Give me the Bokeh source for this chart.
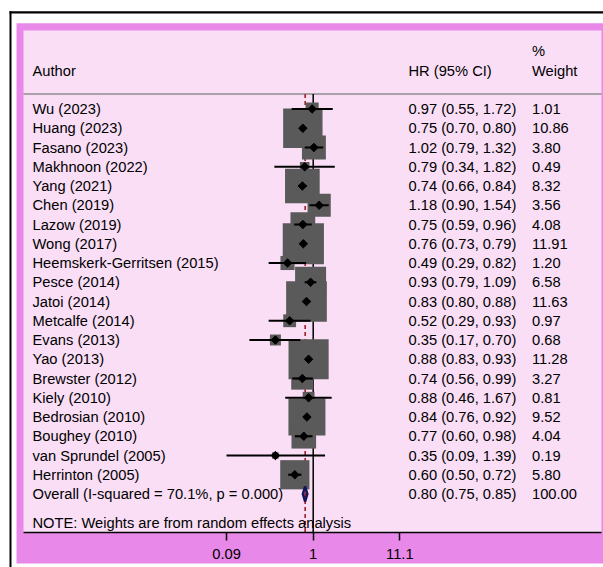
import math

from bokeh.core.properties import value
from bokeh.embed import file_html
from bokeh.models import (ColumnDataSource, CustomJSTickFormatter, FixedTicker,
                          LogAxis, LogScale, Range1d)
from bokeh.plotting import figure
from bokeh.resources import INLINE

# ---- study data -------------------------------------------------------------
authors = ["Wu (2023)", "Huang (2023)", "Fasano (2023)", "Makhnoon (2022)",
           "Yang (2021)", "Chen (2019)", "Lazow (2019)", "Wong (2017)",
           "Heemskerk-Gerritsen (2015)", "Pesce (2014)", "Jatoi (2014)",
           "Metcalfe (2014)", "Evans (2013)", "Yao (2013)", "Brewster (2012)",
           "Kiely (2010)", "Bedrosian (2010)", "Boughey (2010)",
           "van Sprundel (2005)", "Herrinton (2005)"]
hr = [0.97, 0.75, 1.02, 0.79, 0.74, 1.18, 0.75, 0.76, 0.49, 0.93,
      0.83, 0.52, 0.35, 0.88, 0.74, 0.88, 0.84, 0.77, 0.35, 0.60]
ci_low = [0.55, 0.70, 0.79, 0.34, 0.66, 0.90, 0.59, 0.73, 0.29, 0.79,
          0.80, 0.29, 0.17, 0.83, 0.56, 0.46, 0.76, 0.60, 0.09, 0.50]
ci_high = [1.72, 0.80, 1.32, 1.82, 0.84, 1.54, 0.96, 0.79, 0.82, 1.09,
           0.88, 0.93, 0.70, 0.93, 0.99, 1.67, 0.92, 0.98, 1.39, 0.72]
weights = [1.01, 10.86, 3.80, 0.49, 8.32, 3.56, 4.08, 11.91, 1.20, 6.58,
           11.63, 0.97, 0.68, 11.28, 3.27, 0.81, 9.52, 4.04, 0.19, 5.80]

overall_label = "Overall  (I-squared = 70.1%, p = 0.000)"
overall_hr = 0.80
overall_low = 0.75
overall_high = 0.85
overall_weight = 100.00

x_ticks = [0.09, 1, 11.1]
note_text = "NOTE: Weights are from random effects analysis"

# ---- page geometry (pixels) -------------------------------------------------
W, H = 603, 567
PANEL_L, PANEL_R, PANEL_T, PANEL_B = 23, 601, 30, 532
X_ONE = 312.7          # pixel column of HR = 1
PX_PER_LN = 36.0       # pixels per unit of ln(HR)
ROW0, ROW_H = 108.5, 19.25

def px_to_x(px):
    return math.exp((px - X_ONE) / PX_PER_LN)

def py_to_row(py):
    return (py - ROW0) / ROW_H

PINK = "#E888E8"
PANEL = "#F9DEF6"
BOX = "#5A5A5A"
FONT = value("Liberation Sans")
FS = "14.7px"

n = len(authors)
rows = list(range(n))
overall_row = n

# the frame covers the whole canvas; a log x scale carries the forest plot
p = figure(width=W, height=H, x_axis_type=None,
           x_range=Range1d(px_to_x(0), px_to_x(W)),
           y_range=Range1d(py_to_row(H), py_to_row(0)),
           y_axis_location=None, toolbar_location=None, output_backend="svg",
           min_border=0)
p.x_scale = LogScale()
p.background_fill_color = "white"
p.border_fill_color = "white"
p.outline_line_color = None
p.grid.visible = False

# ---- page decoration: black corner rules, pink frame, light panel ----------------
def band(x0, x1, y0, y1, color):
    p.quad(left=px_to_x(x0), right=px_to_x(x1),
           top=py_to_row(y0), bottom=py_to_row(y1),
           fill_color=color, line_color=None)

band(9, W, 10.8, 13, "black")
band(9, 11, 10.8, H, "black")
band(16, W, 22.7, 563, PINK)
band(PANEL_L, PANEL_R, PANEL_T, PANEL_B, PANEL)

# ---- x axis, fixed on the panel's lower edge ---------------------------------------
ax = LogAxis(fixed_location=py_to_row(PANEL_B),
             bounds=(px_to_x(PANEL_L), px_to_x(PANEL_R)))
ax.ticker = FixedTicker(ticks=x_ticks, minor_ticks=[])
ax.formatter = CustomJSTickFormatter(code="return String(tick);")
ax.major_tick_out = 8
ax.major_tick_in = 0
ax.minor_tick_out = 0
ax.minor_tick_in = 0
ax.axis_line_color = "black"
ax.axis_line_width = 1.5
ax.major_tick_line_color = "black"
ax.major_tick_line_width = 1.5
ax.major_label_standoff = 8
ax.major_label_text_font = "Liberation Sans"
ax.major_label_text_font_size = FS
ax.major_label_text_color = "black"
p.add_layout(ax, "below")

# ---- header rule --------------------------------------------------------------------
p.segment(x0=[px_to_x(PANEL_L)], y0=[py_to_row(93.5)],
          x1=[px_to_x(PANEL_R)], y1=[py_to_row(93.5)],
          line_color="#8C8C8C", line_width=1.5)

# ---- reference lines ------------------------------------------------------------------
top_row = py_to_row(93.5)
bottom_row = py_to_row(PANEL_B)
p.segment(x0=[1], y0=[top_row], x1=[1], y1=[bottom_row],
          line_color="black", line_width=1.5)
p.segment(x0=[overall_hr], y0=[top_row], x1=[overall_hr], y1=[bottom_row],
          line_color="#9E1F26", line_width=1.6, line_dash="4 3")

# ---- study markers --------------------------------------------------------------------
src = ColumnDataSource(dict(
    row=rows, hr=hr, lo=ci_low, hi=ci_high, w=weights,
    size=[11.5 * math.sqrt(w) + 1.5 for w in weights],
    author=authors,
    est=[f"{h:.2f} ({l:.2f}, {u:.2f})" for h, l, u in zip(hr, ci_low, ci_high)],
    wtxt=[f"{w:.2f}" for w in weights],
))
p.scatter(x="hr", y="row", size="size", marker="square", source=src,
          fill_color=BOX, line_color=None)
p.segment(x0="lo", y0="row", x1="hi", y1="row", source=src,
          line_color="black", line_width=2.2)
p.scatter(x="hr", y="row", size=6, marker="square", angle=math.pi / 4,
          source=src, fill_color="black", line_color="black")

# ---- pooled estimate diamond ------------------------------------------------------------
half = 0.39
p.patch(x=[overall_low, overall_hr, overall_high, overall_hr],
        y=[overall_row, overall_row - half, overall_row, overall_row + half],
        fill_color="#9E1F26", fill_alpha=0.6, line_color="#15155A", line_width=2.5)

# ---- text columns -----------------------------------------------------------------------
txt = dict(text_font=FONT, text_font_size=FS, text_color="black",
           text_baseline="middle", text_align="left")
p.text(x=px_to_x(32), y="row", text="author", source=src, **txt)
p.text(x=px_to_x(408), y="row", text="est", source=src, **txt)
p.text(x=px_to_x(531.5), y="row", text="wtxt", source=src, **txt)

p.text(x=[px_to_x(32)], y=[overall_row], text=[overall_label], **txt)
p.text(x=[px_to_x(408)], y=[overall_row],
       text=[f"{overall_hr:.2f} ({overall_low:.2f}, {overall_high:.2f})"], **txt)
p.text(x=[px_to_x(531.5)], y=[overall_row], text=[f"{overall_weight:.2f}"], **txt)

p.text(x=[px_to_x(32)], y=[py_to_row(522.5)], text=[note_text], **txt)

p.text(x=[px_to_x(32), px_to_x(408), px_to_x(531.5), px_to_x(531.5)],
       y=[py_to_row(70), py_to_row(70), py_to_row(50), py_to_row(70)],
       text=["Author", "HR (95% CI)", "%", "Weight"], **txt)

open("out.html", "w").write(file_html(p, INLINE))
